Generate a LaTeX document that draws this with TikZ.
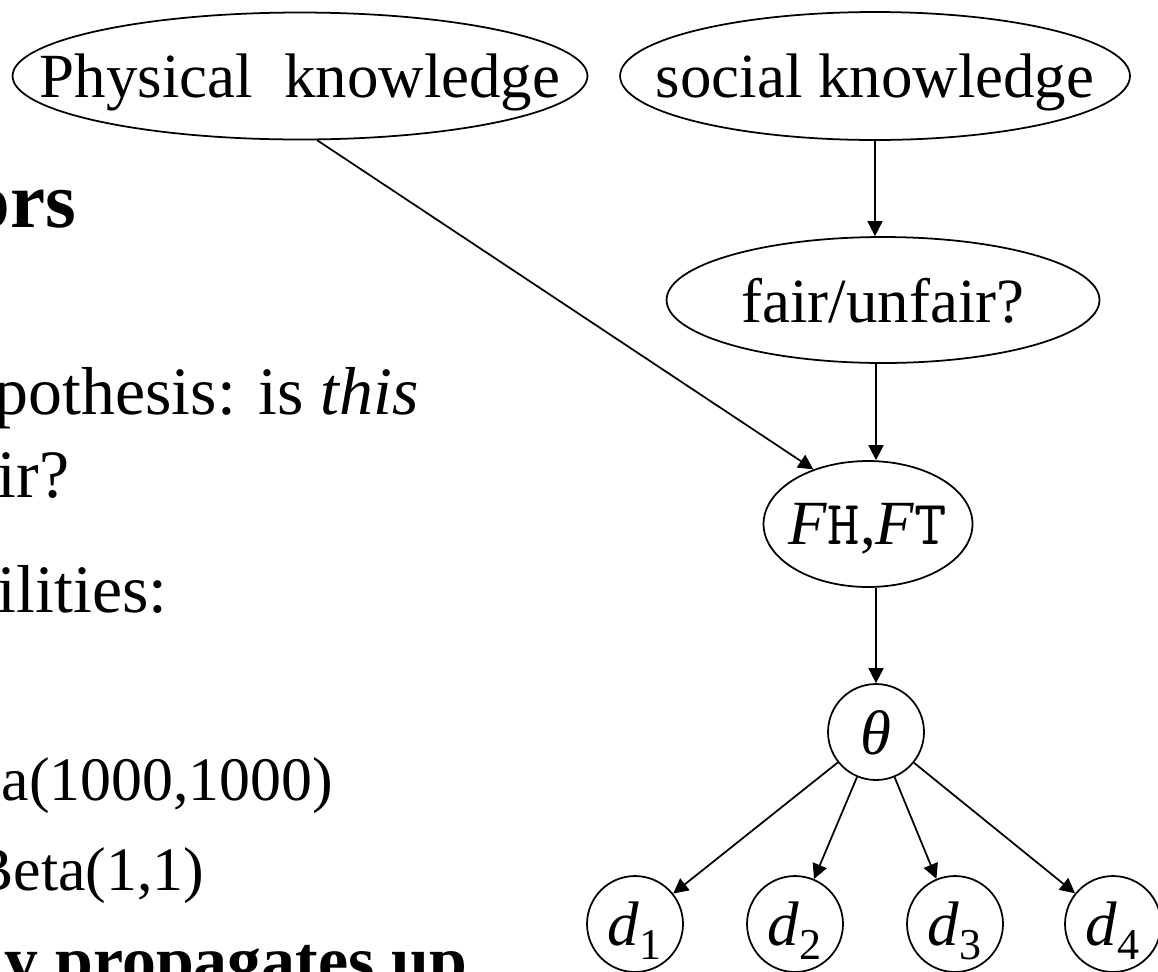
\documentclass[tikz,border=0pt]{standalone}
\usepackage{fontspec}
\setmainfont{Liberation Serif}
\usetikzlibrary{shapes.geometric}
\usetikzlibrary{arrows.meta}

\begin{document}
\begin{tikzpicture}[x=0.02cm, y=-0.02cm, line width=1pt,
  belief/.style={ellipse, draw, inner sep=0pt, text depth=0pt, font=\fontsize{35.8}{40}\selectfont},
  param/.style={circle, draw, inner sep=0pt, minimum size=1.92cm, text depth=0pt, font=\fontsize{35.8}{40}\selectfont},
  slide/.style={inner sep=0pt, font=\fontsize{38.6}{44}\selectfont},
  sub/.style={inner sep=0pt, font=\fontsize{35.2}{40}\selectfont},
  edge/.style={-{Triangle[length=8.5pt,width=8.5pt]}}]
  \useasboundingbox (0,0) rectangle (1158,971);
  % belief nodes
  \node[belief, minimum width=11.5cm, minimum height=2.54cm] (phys) at (300,76) {\makebox[0pt]{Physical\ \ knowledge}};
  \node[belief, minimum width=10.2cm, minimum height=2.56cm] (social) at (875,76) {\makebox[0pt]{social knowledge}};
  \node[belief, minimum width=8.66cm, minimum height=2.52cm] (fair) at (883,300) {\makebox[0pt]{fair/unfair?}};
  \node[belief, minimum width=4.18cm, minimum height=2.52cm] (fh) at (868,524) {\makebox[0pt]{\textit{F}\texttt{H},\textit{F}\texttt{T}}};
  \node[param] (theta) at (876,732) {\makebox[0pt]{\textit{θ}}};
  \foreach \i/\x in {1/635, 2/795, 3/955, 4/1113}
    \node[param] (d\i) at (\x,924) {\makebox[0pt]{\textit{d}\textsubscript{\i}}};
  % connectors
  \draw[edge] (social.south) -- (social.south |- fair.north);
  \draw[edge] (fair.south -| theta) -- (fh.north -| theta);
  \draw[edge] (fh.south -| theta) -- (theta);
  \draw[edge] (phys.-75) -- (fh.135);
  \foreach \i in {1,...,4}
    \draw[edge] (theta) -- (d\i);
  % slide text cut at the left edge
  \node[font=\bfseries\fontsize{45}{50}\selectfont, inner sep=0pt, anchor=base east] (t1) at (77,227) {ors};
  \node[slide, anchor=base west] (t2) at (-6,414) {pothesis: is \textit{this}};
  \node[slide, anchor=base west] (t3) at (-3,497) {ir?};
  \node[slide, anchor=base west] (t4) at (-3,612) {ilities:};
  \node[sub, anchor=base east] (t5) at (334,800) {a(1000,1000)};
  \node[sub, anchor=base east] (t6) at (205,890) {Beta(1,1)};
  \node[slide, font=\bfseries\fontsize{38.6}{44}\selectfont, anchor=base east] (t7) at (468,983) {y propagates up};
\end{tikzpicture}
\end{document}
